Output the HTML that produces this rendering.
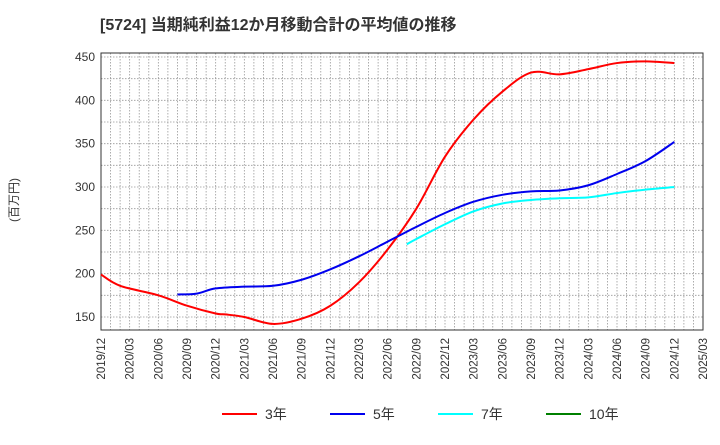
<!DOCTYPE html>
<html><head><meta charset="utf-8"><style>
body{margin:0;background:#fff;font-family:"Liberation Sans","Noto Sans CJK JP",sans-serif;}
svg text{font-family:"Liberation Sans","Noto Sans CJK JP",sans-serif;}
</style></head><body>
<svg id="c" width="720" height="440" xmlns="http://www.w3.org/2000/svg">
<text x="100" y="30" font-size="16" font-weight="bold" fill="#333">[5724]  当期純利益12か月移動合計の平均値の推移</text>
<text transform="translate(18,200) rotate(-90)" text-anchor="middle" font-size="12" fill="#333">(百万円)</text>
</svg>
<script>
const xLabels=["2019/12","2020/03","2020/06","2020/09","2020/12","2021/03","2021/06","2021/09","2021/12","2022/03","2022/06","2022/09","2022/12","2023/03","2023/06","2023/09","2023/12","2024/03","2024/06","2024/09","2024/12","2025/03"];
const yTicks=[150,200,250,300,350,400,450];
const redMonths=[0,2,6,9,12,13,15,18,21,24,27,30,33,36,39,42,45,48,51,54,57,60];
const redValues=[199,186,175,163,154,153,150,142,148,163,190,228,275,335,378,410,432,430,436,443,445,443];
const blueMonths=[8,10,12,15,18,21,24,27,30,33,36,39,42,45,48,51,54,57,60];
const blueValues=[176,177,183,185,186,193,205,220,237,254,270,283,291,295,296,302,315,330,352];
const cyanMonths=[32,33,36,39,42,45,48,51,54,57,60];
const cyanValues=[234,240,257,272,281,285,287,288,293,297,300];
const NS="http://www.w3.org/2000/svg",svg=document.getElementById('c');
const L=101,R=703,T=53,B=330;
const xs=m=>L+(R-L)*m/63;
const ys=v=>317-(v-150)*260/300;
function mk(t,a){const e=document.createElementNS(NS,t);for(const k in a)e.setAttribute(k,a[k]);svg.appendChild(e);return e;}
mk('rect',{x:L,y:T,width:R-L,height:B-T,fill:'#fff',stroke:'none'});
for(let m=1;m<63;m++){const g=mk('line',{x1:xs(m),x2:xs(m),y1:T,y2:B,stroke:'#999','stroke-width':0.8,'stroke-dasharray':'1.5,1.5'});

}
for(let v=150;v<=450;v+=25){const g=mk('line',{x1:L,x2:R,y1:ys(v),y2:ys(v),stroke:'#999','stroke-width':0.8,'stroke-dasharray':'1.5,1.5'});

}
const fr=mk('rect',{x:L,y:T,width:R-L,height:B-T,fill:'none',stroke:'#333','stroke-width':1});


yTicks.forEach(v=>{const t=mk('text',{x:L-6,y:ys(v)+4,'text-anchor':'end','font-size':12,fill:'#333'});t.textContent=v;

});
xLabels.forEach((s,i)=>{const x=xs(i*3),y=B+8;const t=mk('text',{x:x+4,y:y,'text-anchor':'end','font-size':11.5,fill:'#333',transform:`rotate(-90 ${x+4} ${y})`});t.textContent=s;

});
function path(ms,vs){const p=ms.map((m,i)=>[xs(m),ys(vs[i])]);let d=`M${p[0][0]},${p[0][1]}`;
for(let i=0;i<p.length-1;i++){const p0=p[i-1]||p[i],p1=p[i],p2=p[i+1],p3=p[i+2]||p2;
d+=` C${p1[0]+(p2[0]-p0[0])/6},${p1[1]+(p2[1]-p0[1])/6} ${p2[0]-(p3[0]-p1[0])/6},${p2[1]-(p3[1]-p1[1])/6} ${p2[0]},${p2[1]}`;}return d;}
[[redMonths,redValues,'#ff0000','series-3yr'],[blueMonths,blueValues,'#0000ee','series-5yr'],[cyanMonths,cyanValues,'#00ffff','series-7yr']].forEach(s=>{
const e=mk('path',{d:path(s[0],s[1]),fill:'none',stroke:s[2],'stroke-width':2});

});
[['3年','#ff0000',222],['5年','#0000ee',330],['7年','#00ffff',438],['10年','#008000',546]].forEach(l=>{
const ln=mk('line',{x1:l[2],x2:l[2]+35,y1:414,y2:414,stroke:l[1],'stroke-width':2});


const t=mk('text',{x:l[2]+43,y:419,'font-size':14,fill:'#333'});t.textContent=l[0];

});
</script>
</body></html>
